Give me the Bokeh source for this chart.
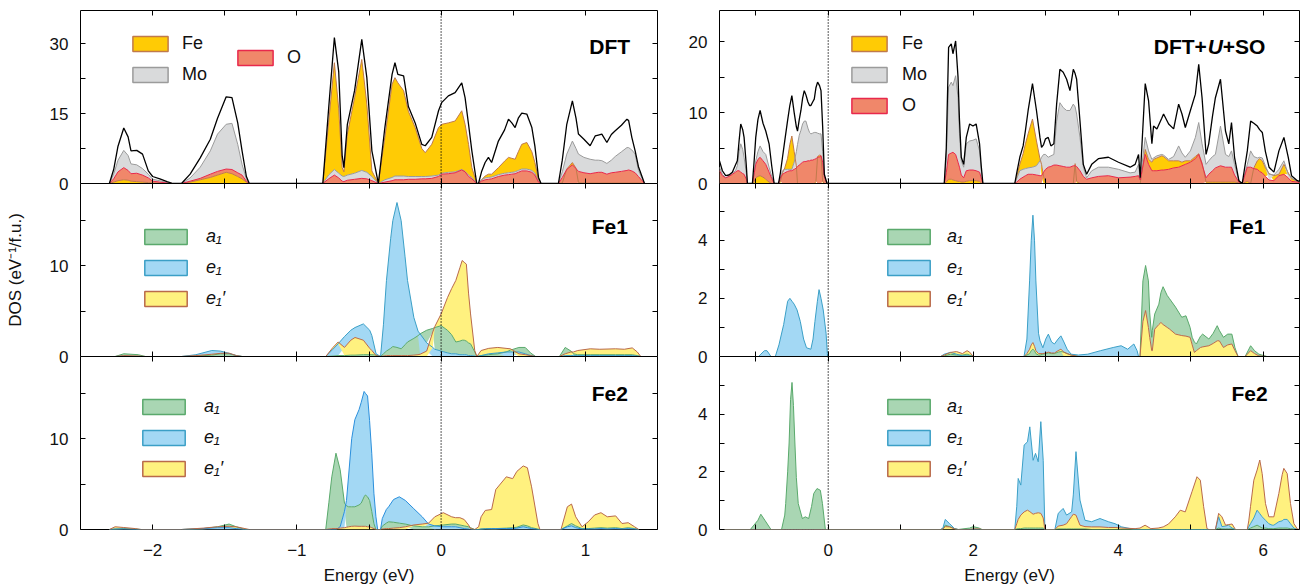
import numpy as np
from bokeh.plotting import figure
from bokeh.models import Range1d, FixedTicker, LinearAxis, Span, Legend, LegendItem, Label
from bokeh.layouts import column, row
from bokeh.embed import file_html
from bokeh.resources import INLINE

FONT = "Liberation Sans"
TICK_FS = "17px"

# ---------------- data: DFT (top left) ----------------
tl_E = [-2.30, -2.27, -2.24, -2.20, -2.17, -2.15, -2.11, -2.07, -2.03, -2.00, -1.95, -1.90, -1.86, -1.80,
        -1.74, -1.67, -1.60, -1.55, -1.49, -1.45, -1.41, -1.38, -1.35, -1.33,
        -0.82, -0.78, -0.74, -0.71, -0.686, -0.674, -0.65, -0.60, -0.55, -0.515, -0.48, -0.435, -0.39, -0.34,
        -0.32, -0.30, -0.26, -0.227, -0.18, -0.134, -0.11, -0.065, -0.018, 0.005, 0.05, 0.097, 0.143, 0.166,
        0.19, 0.213, 0.247,
        0.259, 0.28, 0.305, 0.328, 0.35, 0.397, 0.44, 0.467, 0.49, 0.513, 0.535, 0.559, 0.594, 0.629, 0.65,
        0.675, 0.693,
        0.813, 0.84, 0.871, 0.91, 0.935, 0.952, 0.99, 1.033, 1.068, 1.09, 1.114, 1.149, 1.18, 1.207, 1.25,
        1.288, 1.30, 1.322, 1.345, 1.368, 1.41]
tl_total = [0, 3, 8, 11.9, 10, 7.0, 7.1, 6.3, 2.7, 1.5, 1.0, 0.4, 0, 0, 2, 5.5, 9.5, 14, 18.6, 18.4, 13, 7, 1.5, 0,
            0, 16, 31.3, 24, 6, 3.4, 12.7, 19.9, 30.9, 22.7, 7, 0, 12, 23.4, 25.9, 23.4, 23.1, 16.5, 13, 8.4, 8.1,
            9.9, 15.6, 17.4, 18.8, 19.5, 21.6, 18.4, 12.7, 7, 0,
            0, 2.5, 4.5, 5.6, 4.5, 9.1, 11.5, 13.8, 13, 12, 14, 15.1, 14.9, 12, 8, 1.3, 0,
            0, 5, 12.7, 17.7, 14, 10.6, 9.5, 8.1, 10.2, 10.4, 10.6, 8.8, 10.5, 11.3, 12.5, 13.8, 13.5, 9.9, 7,
            3.6, 0]
tl_Fe = [0, 0.3, 0.6, 0.8, 0.7, 0.5, 0.4, 0.3, 0.2, 0.1, 0.05, 0, 0, 0, 0.3, 0.8, 1.3, 1.8, 2.4, 2.1, 1.5, 1.0, 0.3, 0,
         0, 13, 25.9, 16, 3.4, 2.5, 10.6, 18.4, 26.6, 17, 2.7, 0, 9.9, 21.3, 22.7, 21.6, 19.9, 15.5, 12, 7.5, 6.6,
         8.4, 12, 12.7, 13, 13.4, 15.6, 12.7, 8.4, 3.4, 0,
         0, 0.8, 1.6, 2.0, 2.0, 3.4, 4.8, 5.6, 5.4, 5.2, 6.8, 8.4, 8.8, 6.8, 4.5, 0.9, 0,
         0, 0.1, 3.1, 4.5, 3.3, 0.2, 0.1, 0.1, 0.1, 0.1, 0.1, 0.1, 0.1, 0.1, 0.1, 0.1, 0.1, 0.1, 0.1, 0.1, 0]
tl_Mo = [0, 2, 5, 7.1, 6, 4.2, 4.0, 3.2, 2.0, 0.9, 0.6, 0.2, 0, 0, 1.2, 3.5, 7, 10.6, 12.7, 12.9, 8.4, 4.1, 1.0, 0,
         0, 1.8, 3.0, 2.2, 1.6, 1.5, 1.8, 2.2, 2.8, 2.4, 1.5, 0, 0.8, 1.3, 1.6, 1.6, 1.6, 1.5, 1.5, 1.5, 1.5, 1.6,
         1.8, 2.2, 2.4, 2.5, 3.0, 2.6, 1.8, 1.3, 0,
         0, 0.8, 1.2, 1.3, 1.4, 1.9, 2.2, 2.3, 2.4, 2.5, 2.8, 3.1, 3.1, 2.8, 2.2, 0.5, 0,
         0, 2.5, 6.3, 9.1, 7.5, 6.3, 5.6, 5.2, 5.0, 5.0, 4.9, 4.3, 5.0, 5.8, 6.8, 7.7, 7.7, 7.2, 6.3, 2.8, 0]
tl_O = [0, 1.0, 2.5, 3.4, 2.8, 2.1, 2.2, 1.8, 1.2, 0.5, 0.3, 0.1, 0, 0, 0.5, 1.1, 2.0, 2.6, 3.1, 3.0, 2.3, 1.8, 0.5, 0,
        0, 1.0, 1.8, 1.2, 0.5, 0.4, 0.7, 0.9, 1.1, 1.0, 0.6, 0, 0.3, 0.6, 0.8, 0.8, 0.8, 0.9, 0.9, 1.0, 1.0, 1.1,
        1.5, 2.0, 2.1, 2.3, 2.9, 2.5, 1.5, 1.0, 0,
        0, 0.5, 0.8, 0.9, 1.0, 1.5, 1.8, 1.9, 2.0, 2.1, 2.4, 2.7, 2.7, 2.4, 1.8, 0.3, 0,
        0, 1.3, 3.0, 4.0, 3.2, 2.6, 2.3, 2.1, 2.3, 2.4, 2.4, 2.0, 2.3, 2.4, 2.6, 2.8, 2.9, 2.7, 2.3, 1.5, 0]

# ---------------- data: DFT+U+SO (top right) ----------------
tr_E = [-1.50, -1.46, -1.415, -1.37, -1.323, -1.28, -1.254, -1.23, -1.207, -1.18, -1.161, -1.13, -1.115, -1.046,
        -1.02, -1.0, -0.97, -0.94, -0.90, -0.862, -0.816, -0.78, -0.746, -0.686, -0.66, -0.631, -0.60, -0.562,
        -0.53, -0.502, -0.47, -0.44, -0.424, -0.40, -0.377, -0.354, -0.331, -0.308, -0.28, -0.258, -0.239,
        -0.215, -0.193, -0.17, -0.147, -0.12, -0.10, -0.077, -0.054, -0.017,
        1.60, 1.628, 1.66, 1.697, 1.72, 1.757, 1.79, 1.81, 1.835, 1.868, 1.904, 1.95, 1.996, 2.04, 2.087, 2.11, 2.133,
        2.573, 2.60, 2.642, 2.688, 2.72, 2.757, 2.817, 2.872, 2.92, 2.942,
        2.97, 2.997, 3.034, 3.071, 3.112, 3.15, 3.195, 3.241, 3.288, 3.334,
        3.38, 3.405, 3.426, 3.472, 3.518, 3.564, 3.634, 3.726, 3.864, 4.003,
        4.164, 4.233, 4.28, 4.303, 4.372, 4.418, 4.464, 4.487, 4.533, 4.6,
        4.625, 4.695, 4.764, 4.833, 4.879, 4.925, 4.995, 5.064, 5.11, 5.156,
        5.211, 5.248, 5.30, 5.34, 5.41, 5.479, 5.525, 5.562, 5.604, 5.664,
        5.71, 5.78, 5.826, 5.87, 5.918, 5.95, 5.987, 6.03, 6.08, 6.147,
        6.216, 6.285, 6.345, 6.39, 6.47, 6.5]
tr_total = [3.2, 1.8, 1.1, 1.2, 1.6, 2.6, 3.2, 6, 8.4, 7.6, 6.5, 2.5, 0, 0, 3.5, 6.5, 9, 10.3, 8.5, 7.4, 5.6, 2.5, 0,
            0, 1.5, 3.7, 6, 8.8, 11, 12.4, 10, 8, 7.4, 9, 10.3, 12, 13.1, 12.5, 11.5, 11, 11.0, 11.5, 11.9, 13.5,
            14.3, 13.8, 13.1, 8, 1.3, 0,
            0, 5, 19.2, 19.7, 18.3, 20.1, 15, 9, 3.7, 2.7, 6.5, 8.4, 8.1, 8.4, 5.6, 2.5, 0,
            0, 1.5, 3.7, 5.3, 7.5, 10.3, 14.1, 10.3, 6.5, 5.1,
            5.5, 6.3, 6.5, 5.3, 5.6, 11.2, 16.1, 15.7, 14.7, 13.1,
            16.1, 15.5, 14.7, 8.8, 2.7, 1.3, 2.7, 3.5, 3.7, 3.0,
            2.3, 2.7, 4.1, 0.8, 14.1, 11.7, 5.6, 8.1, 7.7, 9.2,
            9.8, 8.4, 7.7, 11.2, 9.8, 7.9, 10.3, 12.6, 16.8, 12.1,
            4.1, 5.6, 9.5, 12.1, 14.7, 7.4, 5.6, 8.6, 3.7, 0.4,
            0, 4.6, 8.8, 8.5, 8.1, 7.6, 7.2, 4.5, 2.3, 1.6,
            4.6, 6.5, 3.7, 1.1, 0.4, 0.3]
tr_Fe = [0, 0, 0, 0, 0, 0, 0, 0, 0, 0, 0, 0, 0, 0, 0.3, 0.8, 1.0, 1.1, 0.9, 0.6, 0.2, 0, 0, 0, 0.3, 1.5, 2.2, 3.5,
         5.5, 6.7, 4.5, 2.5, 0, 0, 0, 0, 0, 0, 0, 0, 0, 0, 0, 0.3, 3.8, 4.0, 3.95, 0.3, 0, 0,
         0, 0.2, 0.6, 0.6, 0.5, 0.4, 0.3, 0.3, 0.2, 0.2, 0.3, 0.4, 0.4, 0.4, 0.3, 0.1, 0,
         0, 1.0, 2.7, 4.2, 5.6, 7.0, 9.1, 6.0, 3.5, 2.7,
         1.0, 0.1, 0, 0, 0, 0, 0, 0, 0, 0,
         0, 2.8, 0.3, 0, 0, 0, 0, 0, 0, 0,
         0, 0, 0, 0, 4.8, 3.4, 3.0, 3.4, 3.6, 3.9,
         3.8, 3.2, 3.2, 3.2, 3.0, 3.2, 3.2, 3.8, 4.2, 2.9,
         0.2, 0.2, 0.2, 0.2, 0.2, 0.2, 0.2, 0.2, 0.2, 0.1,
         0, 0.3, 0, 2.2, 3.2, 3.5, 3.2, 2.2, 1.4, 1.1,
         1.3, 2.7, 1.5, 0.7, 0.3, 0.2]
tr_Mo = [2.3, 1.3, 0.8, 1.0, 1.5, 1.8, 2.5, 4.5, 5.6, 4.8, 3.7, 1.5, 0, 0, 1.5, 3.2, 4.5, 5.3, 4.5, 4.1, 2.3, 1.0, 0,
         0, 0.8, 1.8, 2.0, 2.0, 2.0, 2.0, 3.0, 4.5, 5.5, 6.8, 7.5, 8.4, 8.8, 8.8, 7.8, 7.2, 7.0, 7.1, 7.2, 7.2, 7.1,
         7.0, 7.0, 4.5, 1.0, 0,
         0, 3.5, 13.6, 14.3, 13.8, 15.2, 12.1, 7, 3.2, 2.3, 5.6, 6.0, 6.1, 6.3, 4.6, 2, 0,
         0, 0.7, 1.8, 2.0, 2.1, 2.2, 2.3, 2.5, 3.2, 3.7,
         4.1, 4.1, 3.7, 3.9, 4.1, 8.8, 11.4, 10.7, 10.3, 10.3,
         11.2, 10.8, 9.8, 6.5, 2.3, 0.8, 1.8, 2.3, 2.3, 2.0,
         1.5, 1.6, 2.7, 0.6, 6.5, 4.6, 3.4, 3.6, 3.9, 4.1,
         4.0, 3.4, 3.8, 5.3, 4.3, 3.7, 4.6, 6.5, 8.6, 5.6,
         2.7, 3.2, 3.8, 4.1, 8.1, 4.1, 3.8, 4.6, 2.7, 0.4,
         0, 2.7, 4.6, 3.8, 3.6, 3.7, 3.6, 2.5, 1.3, 1.2,
         2.0, 3.2, 1.3, 0.8, 0.3, 0.2]
tr_O = [1.8, 1.1, 0.8, 1.0, 1.3, 1.6, 1.8, 1.8, 1.6, 1.4, 1.3, 0.6, 0, 0, 1.5, 2.7, 3.4, 3.7, 3.2, 2.7, 1.6, 0.7, 0,
        0, 0.8, 1.3, 1.5, 1.7, 1.8, 1.8, 2.0, 2.2, 2.4, 2.6, 2.8, 3.0, 3.1, 3.1, 3.2, 3.2, 3.3, 3.3, 3.4, 3.5, 3.7,
        3.75, 3.9, 3.0, 1.0, 0,
        0, 1.5, 4.1, 4.3, 4.4, 4.1, 3.0, 2.3, 1.2, 0.8, 1.8, 1.9, 1.9, 1.8, 1.6, 0.8, 0,
        0, 0.2, 0.6, 0.9, 1.1, 1.3, 1.3, 1.2, 1.1, 1.1,
        1.6, 2.0, 2.3, 2.4, 2.6, 2.6, 2.5, 2.4, 2.3, 2.3,
        2.5, 2.5, 2.4, 1.8, 1.0, 0.6, 0.8, 1.0, 1.1, 0.8,
        0.9, 1.0, 1.1, 0.5, 4.1, 2.7, 1.8, 1.8, 1.8, 1.9,
        1.9, 2.0, 2.2, 2.3, 2.5, 2.7, 3.0, 3.5, 4.1, 2.7,
        0.8, 1.3, 1.8, 2.2, 2.5, 2.3, 2.3, 2.3, 1.2, 0.2,
        0, 2.3, 2.3, 2.1, 2.0, 1.7, 1.5, 1.0, 0.5, 0.4,
        1.1, 1.3, 0.8, 0.3, 0.2, 0.1]

# ---------------- data: Fe1, DFT (middle left) ----------------
ml_E = [-2.26, -2.20, -2.10, -2.05, -1.80, -1.70, -1.59, -1.53, -1.47, -1.42, -1.38,
        -0.80, -0.75, -0.714, -0.67, -0.626, -0.597, -0.539, -0.495, -0.48, -0.451, -0.42, -0.40, -0.379, -0.35,
        -0.335, -0.306, -0.277, -0.25, -0.233, -0.189, -0.16, -0.146, -0.10, -0.058, -0.044, 0.0, 0.044, 0.073,
        0.102, 0.13, 0.146, 0.16, 0.175, 0.19, 0.204, 0.233, 0.248,
        0.277, 0.33, 0.393, 0.45, 0.48, 0.539, 0.583, 0.62, 0.655, 0.82, 0.86, 0.90, 0.917, 0.947, 1.034, 1.10,
        1.209, 1.27, 1.325, 1.36, 1.384]
ml_a1 = [0, 0.3, 0.2, 0, 0, 0.05, 0.15, 0.3, 0.3, 0.1, 0,
         0, 0.05, 0.1, 0.1, 0.15, 0.15, 0.2, 0.2, 0.2, 0.15, 0, 0.3, 0.6, 0.9, 1.1, 1.0, 0.85, 1.3, 1.6, 2.0, 2.3,
         2.5, 2.9, 3.1, 3.2, 3.4, 2.9, 2.4, 1.6, 1.7, 1.8, 1.8, 1.7, 1.5, 1.4, 0.5, 0,
         0.1, 0.2, 0.3, 0.5, 0.7, 1.0, 1.0, 0.4, 0, 0, 1.0, 0.6, 0.3, 0.2, 0.2, 0.2, 0.2, 0.2, 0.2, 0.1, 0]
ml_e1 = [0, 0.05, 0, 0, 0, 0.2, 0.66, 0.6, 0.35, 0.1, 0,
         0, 0.8, 1.4, 2.2, 2.9, 3.2, 3.6, 2.9, 2.3, 0.3, 0, 3.5, 8.4, 13, 15, 17, 15, 11, 8.4, 4.3, 2.8, 2.5, 1.5,
         1.0, 0.8, 0.6, 0.4, 0.3, 0.3, 0.2, 0.2, 0.2, 0.2, 0.1, 0.1, 0.05, 0,
         0.1, 0.3, 0.4, 0.5, 0.5, 0.5, 0.3, 0.1, 0, 0, 0.1, 0.1, 0.1, 0.1, 0.1, 0.1, 0.1, 0.1, 0.1, 0.05, 0]
ml_ep = [0, 0.1, 0.05, 0, 0, 0.1, 0.25, 0.35, 0.37, 0.1, 0,
         0, 1.0, 1.6, 1.0, 1.8, 2.1, 1.8, 0.9, 0.66, 0.1, 0, 0.05, 0.1, 0.1, 0.1, 0.1, 0.1, 0.1, 0.1, 0.15, 0.2,
         0.25, 0.6, 2.7, 3.3, 4.7, 6.5, 7.5, 8.4, 9.8, 10.6, 10.4, 10.2, 7, 4.7, 0.66, 0,
         0.66, 0.9, 1.0, 0.9, 0.85, 0.3, 0.2, 0.1, 0, 0, 0.3, 0.5, 0.5, 0.66, 0.85, 0.8, 0.85, 0.8, 0.95, 0.5, 0]

# ---------------- data: Fe2, DFT (bottom left) ----------------
bl_E = [-2.30, -2.26, -2.20, -2.12, -2.08, -1.80, -1.65, -1.55, -1.47, -1.42, -1.36, -1.33,
        -0.80, -0.778, -0.758, -0.729, -0.70, -0.67, -0.656, -0.641, -0.62, -0.598, -0.569, -0.554, -0.534,
        -0.525, -0.51, -0.496, -0.481, -0.466, -0.452, -0.44, -0.42, -0.408, -0.38, -0.364, -0.33, -0.29,
        -0.248, -0.19, -0.131, -0.087, -0.044, 0.015, 0.073, 0.10, 0.13, 0.16, 0.19, 0.204, 0.233,
        0.26, 0.277, 0.306, 0.35, 0.379, 0.452, 0.496, 0.525, 0.569, 0.598, 0.627, 0.671, 0.685,
        0.831, 0.875, 0.904, 0.933, 0.977, 1.02, 1.064, 1.108, 1.152, 1.21, 1.254, 1.297, 1.341, 1.37]
bl_a1 = [0, 0.05, 0.1, 0.05, 0, 0, 0.1, 0.3, 0.6, 0.3, 0, 0,
         0, 3, 5.8, 8.4, 6.6, 2.9, 2.6, 2.5, 2.5, 2.5, 2.7, 2.9, 3.6, 3.8, 3.6, 3.2, 2.0, 0.66, 0, 0, 0, 0.37,
         0.7, 0.85, 0.8, 0.7, 0.6, 0.4, 0.3, 0.3, 0.4, 0.5, 0.6, 0.6, 0.5, 0.4, 0.3, 0.2, 0,
         0, 0.05, 0.1, 0.1, 0.1, 0.15, 0.2, 0.25, 0.5, 0.4, 0.2, 0.05, 0,
         0, 0.4, 0.66, 0.4, 0.1, 0.1, 0.15, 0.2, 0.15, 0.2, 0.1, 0.2, 0.1, 0]
bl_e1 = [0, 0.05, 0.05, 0, 0, 0, 0.1, 0.2, 0.2, 0.1, 0, 0,
         0, 0, 0, 0, 0.3, 2, 3.2, 6, 10, 12.1, 13.2, 14, 15.2, 15.0, 14.7, 12, 8.4, 4, 1.4, 0, 0, 1.2, 2.2, 2.5,
         3.3, 3.6, 3.2, 2.3, 1.4, 0.6, 0.4, 0.3, 0.3, 0.3, 0.2, 0.1, 0.05, 0, 0,
         0, 0.05, 0.05, 0.1, 0.1, 0.1, 0.1, 0.15, 0.3, 0.2, 0.1, 0, 0,
         0, 0.3, 0.4, 0.2, 0.05, 0.05, 0.05, 0.1, 0.05, 0.1, 0.05, 0.1, 0.05, 0]
bl_ep = [0, 0.3, 0.22, 0.1, 0, 0, 0.15, 0.3, 0.35, 0.3, 0.1, 0,
         0, 0.05, 0.1, 0.1, 0.15, 0.2, 0.25, 0.3, 0.35, 0.37, 0.35, 0.35, 0.35, 0.35, 0.3, 0.3, 0.2, 0.1, 0, 0,
         0, 0.05, 0.1, 0.1, 0.15, 0.2, 0.3, 0.5, 0.6, 0.7, 1.4, 1.85, 1.4, 1.3, 1.3, 1.1, 0.5, 0.1, 0,
         0.3, 1.4, 2.1, 2.2, 4.4, 5.8, 5.6, 6.4, 7.0, 6.8, 4.7, 0.66, 0,
         0, 2.5, 2.8, 1.4, 0.3, 0.85, 1.6, 1.85, 1.4, 1.5, 0.66, 0.75, 0.3, 0]

# ---------------- data: Fe1, DFT+U+SO (middle right) ----------------
mr_E = [-1.50, -0.96, -0.93, -0.88, -0.845, -0.79, -0.73, -0.68, -0.615, -0.56, -0.529, -0.50, -0.47, -0.43,
        -0.385, -0.34, -0.30, -0.24, -0.21, -0.184, -0.15, -0.127, -0.10, -0.069, -0.03, -0.01,
        1.55, 1.60, 1.685, 1.77, 1.85, 1.915, 1.95, 2.0,
        2.70, 2.74, 2.777, 2.80, 2.823, 2.845, 2.864, 2.90, 2.921, 2.96, 3.0, 3.036, 3.08, 3.12, 3.17, 3.209,
        3.25, 3.295, 3.35, 3.45, 3.58, 3.755, 3.93, 4.04, 4.13, 4.215, 4.26, 4.28,
        4.30, 4.34, 4.377, 4.416, 4.434, 4.462, 4.47, 4.503, 4.56, 4.589, 4.618, 4.675, 4.704, 4.79, 4.876,
        4.934, 4.991, 5.02, 5.05, 5.078, 5.135, 5.164, 5.25, 5.31, 5.365, 5.394, 5.451, 5.51, 5.567, 5.61,
        5.653, 5.75, 5.826, 5.88, 5.94, 6.05, 6.5]
mr_a1 = [0] * 26 + \
        [0, 0.02, 0.08, 0.05, 0.05, 0.08, 0.05, 0] + \
        [0, 0.05, 0.1, 0.2, 0.25, 0.2, 0.1, 0.05, 0.05, 0.08, 0.1, 0.12, 0.1, 0.1, 0.15, 0.17, 0.15, 0.1, 0.05,
         0, 0, 0, 0, 0, 0, 0, 0, 0] + \
        [0, 2.6, 3.13, 2.6, 1.5, 0.66, 0.9, 1.46, 1.8, 2.2, 2.4, 2.1, 2.0, 1.7, 1.35, 1.4, 1.0, 0.66, 0.5, 0.43,
         0.7, 0.77, 0.6, 0.8, 1.06, 0.9, 0.66, 0.77, 0.77, 0.3, 0, 0, 0.37, 0.2, 0.08, 0, 0]
mr_e1 = [0, 0, 0.08, 0.2, 0.2, 0, 0, 0.4, 1.1, 1.9, 2.0, 1.9, 1.8, 1.6, 1.2, 0.6, 0.3, 0.25, 0.6, 1.2, 1.9,
         2.3, 2.0, 1.6, 0.8, 0] + \
        [0, 0.08, 0.14, 0.08, 0.02, 0.02, 0.02, 0] + \
        [0, 0.6, 2.6, 4.0, 4.86, 4.0, 2.6, 0.8, 0.54, 0.3, 0.6, 0.77, 0.5, 0.43, 0.6, 0.71, 0.5, 0.25, 0.08,
         0.05, 0.08, 0.2, 0.31, 0.37, 0.25, 0.43, 0.2, 0] + \
        [0] * 37
mr_ep = [0] * 26 + \
        [0, 0.05, 0.14, 0.17, 0.1, 0.2, 0.15, 0] + \
        [0, 0.1, 0.25, 0.4, 0.48, 0.35, 0.2, 0.1, 0.1, 0.1, 0.12, 0.15, 0.12, 0.12, 0.2, 0.25, 0.15, 0.1, 0.05,
         0, 0, 0, 0, 0, 0, 0, 0, 0] + \
        [0, 1.2, 1.58, 1.0, 0.66, 0.2, 0.2, 0.94, 1.1, 1.17, 1.1, 1.0, 0.95, 0.77, 0.72, 0.7, 0.66, 0.4, 0.14,
         0.2, 0.31, 0.33, 0.37, 0.45, 0.54, 0.54, 0.31, 0.4, 0.43, 0.2, 0, 0, 0.2, 0.1, 0.02, 0, 0]

# ---------------- data: Fe2, DFT+U+SO (bottom right) ----------------
br_E = [-1.50, -1.075, -0.97, -0.93, -0.874, -0.79, -0.644, -0.60, -0.587, -0.56, -0.54, -0.52, -0.50, -0.48,
        -0.46, -0.44, -0.414, -0.357, -0.316, -0.27, -0.23, -0.20, -0.155, -0.109, -0.08, -0.04,
        1.55, 1.582, 1.614, 1.674, 1.743, 1.79, 1.95, 2.0, 2.08, 2.12,
        2.573, 2.60, 2.62, 2.656, 2.702, 2.748, 2.78, 2.826, 2.859, 2.896, 2.932, 2.965, 2.988, 3.126, 3.172,
        3.24, 3.287, 3.357, 3.38, 3.417, 3.472, 3.541, 3.633, 3.748, 3.864, 3.956, 4.048, 4.232, 4.30, 4.37,
        4.45, 4.55, 4.62, 4.693, 4.786, 4.855, 4.924, 5.017, 5.086, 5.132, 5.178, 5.224, 5.25,
        5.34, 5.385, 5.43, 5.48, 5.52, 5.57, 5.617, 5.78, 5.80, 5.824, 5.87, 5.915, 5.952, 5.985, 6.031, 6.077,
        6.123, 6.146, 6.215, 6.261, 6.284, 6.33, 6.376, 6.422, 6.469, 6.5]
br_a1 = [0, 0, 0.32, 0.53, 0.32, 0, 0, 0.5, 0.9, 2.0, 3.0, 4.5, 5.1, 4.3, 3.0, 1.8, 0.9, 0.38, 0.44, 0.38,
         0.8, 1.25, 1.42, 1.36, 0.9, 0] + \
        [0, 0.02, 0.15, 0.1, 0.03, 0, 0.05, 0.1, 0.05, 0] + \
        [0, 0.02, 0.03, 0.03, 0.05, 0.05, 0.05, 0.05, 0.05, 0.05, 0.05, 0.05, 0, 0, 0.02, 0.02, 0.02, 0.02,
         0.02, 0.02, 0.02, 0.02] + [0] * 21 + \
        [0, 0.05, 0.02, 0.02, 0.02, 0.02, 0, 0, 0.02, 0.05, 0.1, 0.15, 0.1, 0.05, 0.05, 0.03, 0.03, 0.03, 0.05,
         0.05, 0.05, 0.05, 0.03, 0.02, 0, 0]
br_e1 = [0] * 26 + \
        [0, 0.05, 0.35, 0.2, 0.03, 0, 0, 0, 0, 0] + \
        [0, 0.8, 1.77, 1.54, 2.93, 3.04, 3.56, 2.4, 2.64, 2.35, 3.74, 2.4, 0, 0, 0.56, 0.73, 0.5, 0.61, 1.2, 2.7,
         1.02, 0.32, 0.27, 0.38, 0.27, 0.2, 0.09] + [0] * 16 + \
        [0, 0.44, 0.1, 0.12, 0.15, 0.05, 0, 0, 0.1, 0.2, 0.4, 0.67, 0.55, 0.44, 0.32, 0.2, 0.15, 0.15, 0.27, 0.3,
         0.35, 0.35, 0.2, 0.05, 0, 0]
br_ep = [0] * 26 + \
        [0, 0.02, 0.1, 0.09, 0.02, 0, 0, 0.02, 0.02, 0] + \
        [0, 0.2, 0.35, 0.5, 0.61, 0.67, 0.62, 0.53, 0.56, 0.58, 0.56, 0.4, 0, 0, 0.12, 0.15, 0.2, 0.45, 0.53,
         0.5, 0.15, 0.1, 0.09, 0.09, 0.07, 0.07, 0.05, 0.03, 0.05, 0.15, 0.03, 0.05, 0.09, 0.19, 0.44, 0.67, 0.61,
         1.31, 1.83, 1.71, 0.79, 0.03, 0] + \
        [0, 0.56, 0.44, 0.15, 0.17, 0.19, 0, 0, 0.3, 0.79, 1.71, 2.06, 2.41, 1.94, 0.9, 0.44, 0.44, 0.44, 1.25,
         1.9, 2.12, 1.94, 0.9, 0.21, 0.02, 0]

# ---------------- labels ----------------
atom_labels = ["Fe", "Mo", "O"]
orb_labels = ["a\u2081", "e\u2081", "e\u2081\u2032"]
left_xticks = [-2, -1, 0, 1]
left_xminor = [-1.5, -0.5, 0.5]
left_xlabels = {-2: "\u22122", -1: "\u22121", 0: "0", 1: "1"}
right_xticks = [0, 2, 4, 6]
right_xminor = [-1, 1, 3, 5]

# ---------------- styles ----------------
ATOM_FILL = ["#ffcb05", "#d9dadb", "#f0876a"]
ATOM_EDGE = ["#c07a4c", "#9b9b9b", "#e8284c"]
ORB_FILL = ["#a9d6b3", "#a3d8f4", "#fff17f"]
ORB_EDGE = ["#5aa96c", "#3b9fc6", "#b9694b"]
ORB_EDGE2 = ["#5aa96c", "#2b8fdc", "#b9694b"]


def make_fig(xr, yr, width, height, bl, br, bt, bb):
    p = figure(width=width, height=height, x_range=Range1d(*xr), y_range=Range1d(*yr),
               output_backend="svg", toolbar_location=None,
               min_border_left=bl, min_border_right=br, min_border_top=bt, min_border_bottom=bb,
               background_fill_color="white", border_fill_color=None,
               outline_line_color="black", outline_line_width=1)
    p.xgrid.visible = False
    p.ygrid.visible = False
    p.add_layout(LinearAxis(), "above")
    p.add_layout(LinearAxis(), "right")
    return p


def cfg_axis(ax, ticks, minor, labels=None, show=True, standoff=12):
    ax.ticker = FixedTicker(ticks=ticks, minor_ticks=minor)
    ax.axis_line_color = None
    ax.major_tick_in = 5
    ax.major_tick_out = 0
    ax.minor_tick_in = 5
    ax.minor_tick_out = 0
    ax.major_tick_line_color = "black"
    ax.minor_tick_line_color = "black"
    ax.major_label_text_font = FONT
    if show:
        ax.major_label_text_color = "#111111"
        ax.major_label_text_font_size = TICK_FS
        ax.major_label_standoff = standoff
        if labels:
            ax.major_label_overrides = labels
    else:
        ax.major_label_text_color = None
        ax.major_label_text_font_size = "0px"
        ax.major_label_standoff = 0


def setup_axes(p, xt, xm, xl, yt, ym, show_x):
    cfg_axis(p.below[0], xt, xm, xl, show=show_x, standoff=14)
    cfg_axis(p.above[0], xt, xm, show=False)
    cfg_axis(p.left[0], yt, ym, show=True, standoff=12)
    cfg_axis(p.right[0], yt, ym, show=False)


def draw_species(p, E, series, fills, edges):
    arr = np.array(series, dtype=float)
    for i in range(len(arr)):
        others = np.delete(arr, i, axis=0)
        lower = np.where(others < arr[i], others, 0.0).max(axis=0)
        p.varea(x=E, y1=lower, y2=arr[i], fill_color=fills[i], fill_alpha=1.0)
    for i in range(len(arr)):
        p.line(E, arr[i], line_color=edges[i], line_width=1)


def add_legend(p, labels, fills, edges, loc, gw, gh, spacing, standoff, italic):
    rs = [p.patch(x=[np.nan], y=[np.nan], fill_color=f, line_color=e, line_width=1.5)
          for f, e in zip(fills, edges)]
    leg = Legend(items=[LegendItem(label=l, renderers=[r]) for l, r in zip(labels, rs)],
                 location=loc, orientation="vertical", glyph_width=gw, glyph_height=gh,
                 label_standoff=standoff, spacing=spacing, padding=0, margin=0,
                 border_line_color=None, background_fill_alpha=0,
                 label_text_font=FONT, label_text_font_size="18px", label_height=gh,
                 label_text_font_style="italic" if italic else "normal", label_text_color="#111111")
    p.add_layout(leg, "center")


def add_zero(p):
    p.add_layout(Span(location=0, dimension="height", line_color="black", line_dash="1 2", line_width=1.3))


def add_title(p, x, y, parts):
    off = 0.0
    for text, style, w in reversed(parts):
        p.add_layout(Label(x=x, y=y, x_offset=-off, text=text, text_align="right", text_baseline="middle",
                           text_font=FONT, text_font_style=style, text_font_size="21px", text_color="#000000"))
        off += w


LW, RW = 667, 634
LB, LR, RB, RR = 80, 10, 52, 2
XL, XR = (-2.5, 1.5), (-1.5, 6.5)

# ---- top row ----
tl = make_fig(XL, (0, 37.1), LW, 192, LB, LR, 10, 9)
setup_axes(tl, left_xticks, left_xminor, left_xlabels, [0, 15, 30], [7.5, 22.5], False)
draw_species(tl, tl_E, [tl_Fe, tl_Mo, tl_O], ATOM_FILL, ATOM_EDGE)
tl.line(tl_E, tl_total, line_color="black", line_width=1.3)
add_zero(tl)
add_legend(tl, atom_labels[:2], ATOM_FILL[:2], ATOM_EDGE[:2], (48, 98), 44, 19, 10, 10, False)
add_legend(tl, atom_labels[2:], ATOM_FILL[2:], ATOM_EDGE[2:], (153, 115), 44, 19, 10, 10, False)
add_title(tl, 1.31, 29.3, [("DFT", "bold", 0)])

tr = make_fig(XR, (0, 24.4), RW, 192, RB, RR, 10, 9)
setup_axes(tr, right_xticks, right_xminor, None, [0, 10, 20], [5, 15], False)
draw_species(tr, tr_E, [tr_Fe, tr_Mo, tr_O], ATOM_FILL, ATOM_EDGE)
tr.line(tr_E, tr_total, line_color="black", line_width=1.3)
add_zero(tr)
add_legend(tr, atom_labels, ATOM_FILL, ATOM_EDGE, (128, 67), 44, 19, 10, 11, False)
add_title(tr, 6.03, 19.3, [("DFT+", "bold", 0), ("U", "bold italic", 16.0), ("+SO", "bold", 42.6)])

# ---- middle row ----
ml = make_fig(XL, (0, 19.1), LW, 182, LB, LR, 0, 9)
setup_axes(ml, left_xticks, left_xminor, left_xlabels, [0, 10], [5, 15], False)
draw_species(ml, ml_E, [ml_a1, ml_e1, ml_ep], ORB_FILL, ORB_EDGE)
add_zero(ml)
add_legend(ml, orb_labels, ORB_FILL, ORB_EDGE, (59, 47), 53, 19, 10, 14, True)
add_title(ml, 1.295, 14.3, [("Fe1", "bold", 0)])
ml.left[0].axis_label = "DOS (eV\u207b\u00b9/f.u.)"
ml.left[0].axis_label_text_font = FONT
ml.left[0].axis_label_text_font_style = "normal"
ml.left[0].axis_label_text_font_size = "17px"
ml.left[0].axis_label_text_color = "#111111"
ml.left[0].axis_label_standoff = 22

mr = make_fig(XR, (0, 5.95), RW, 182, RB, RR, 0, 9)
setup_axes(mr, right_xticks, right_xminor, None, [0, 2, 4], [1, 3, 5], False)
draw_species(mr, mr_E, [mr_a1, mr_e1, mr_ep], ORB_FILL, ORB_EDGE)
add_zero(mr)
add_legend(mr, orb_labels, ORB_FILL, ORB_EDGE, (163, 47), 53, 19, 10, 12, True)
add_title(mr, 6.03, 4.47, [("Fe1", "bold", 0)])

# ---- bottom row ----
bl = make_fig(XL, (0, 19.05), LW, 231, LB, LR, 0, 58)
setup_axes(bl, left_xticks, left_xminor, left_xlabels, [0, 10], [5, 15], True)
draw_species(bl, bl_E, [bl_a1, bl_e1, bl_ep], ORB_FILL, ORB_EDGE2)
add_zero(bl)
add_legend(bl, orb_labels, ORB_FILL, ORB_EDGE, (57, 50), 53, 19, 10, 14, True)
add_title(bl, 1.295, 15.0, [("Fe2", "bold", 0)])

br = make_fig(XR, (0, 6.0), RW, 231, RB, RR, 0, 58)
setup_axes(br, right_xticks, right_xminor, None, [0, 2, 4], [1, 3, 5], True)
draw_species(br, br_E, [br_a1, br_e1, br_ep], ORB_FILL, ORB_EDGE)
add_zero(br)
add_legend(br, orb_labels, ORB_FILL, ORB_EDGE, (163, 50), 53, 19, 10, 12, True)
add_title(br, 6.06, 4.73, [("Fe2", "bold", 0)])

for p in (bl, br):
    ax = p.below[0]
    ax.axis_label = "Energy (eV)"
    ax.axis_label_text_font = FONT
    ax.axis_label_text_font_style = "normal"
    ax.axis_label_text_font_size = "17px"
    ax.axis_label_text_color = "#111111"
    ax.axis_label_standoff = 7

r1 = row(tl, tr)
r2 = row(ml, mr, margin=(-9, 0, 0, 0))
r3 = row(bl, br, margin=(-9, 0, 0, 0))
layout = column(r1, r2, r3)

open("out.html", "w").write(file_html(layout, INLINE))
